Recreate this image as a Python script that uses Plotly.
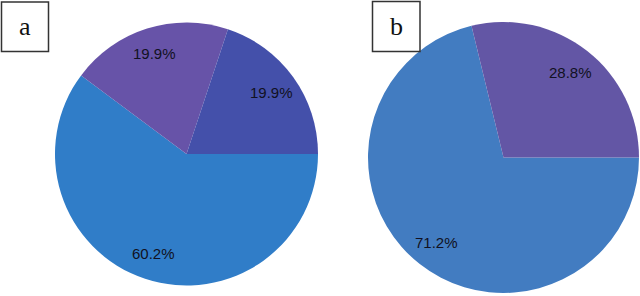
import math
import plotly.graph_objects as go

# Data
labels_a = ["A1", "A2", "A3"]
values_a = [60.2, 19.9, 19.9]
colors_a = ["#307DC8", "#6753A8", "#4450AA"]

labels_b = ["B1", "B2"]
values_b = [71.2, 28.8]
colors_b = ["#427CC1", "#6356A5"]

panel_labels = ["a", "b"]

W, H = 640, 296

fig = go.Figure()

def dom(cx, cy, r):
    return dict(x=[(cx - r) / W, (cx + r) / W],
                y=[(H - cy - r) / H, (H - cy + r) / H])

common = dict(sort=False, direction="clockwise", rotation=90,
              textinfo="none", textposition="none",
              marker=dict(line=dict(width=0)), showlegend=False, hoverinfo="label+value")

pies = [
    (labels_a, values_a, colors_a, 186.5, 154, 131.5),
    (labels_b, values_b, colors_b, 503.5, 157.5, 135.5),
]

for labels, values, colors, cx, cy, r in pies:
    fig.add_trace(go.Pie(labels=labels, values=values, marker_colors=colors,
                         domain=dom(cx, cy, r), **common))
    total = sum(values)
    cum = 0.0
    for v in values:
        theta = 2 * math.pi * (cum + v / 2) / total  # clockwise from 3 o'clock
        cum += v
        px = cx + 0.8 * r * math.cos(theta)
        py = cy + 0.8 * r * math.sin(theta)
        fig.add_annotation(x=px / W, y=1 - py / H, xref="paper", yref="paper",
                           text=f"{v:.1f}%", showarrow=False,
                           xanchor="center", yanchor="middle",
                           font=dict(family="Liberation Sans, Arial", size=15, color="#111122"))

boxes = [(1.5, 2, 48.5, 51.5), (372.5, 1.5, 420, 51.5)]
for (x0, y0, x1, y1), lab in zip(boxes, panel_labels):
    fig.add_shape(type="rect", xref="paper", yref="paper",
                  x0=x0 / W, x1=x1 / W, y0=1 - y0 / H, y1=1 - y1 / H,
                  line=dict(color="#333333", width=1.5), fillcolor="white", layer="above")
    fig.add_annotation(x=(x0 + x1) / 2 / W, y=1 - (y0 + y1) / 2 / H, xref="paper", yref="paper",
                       text=lab, showarrow=False, xanchor="center", yanchor="middle",
                       font=dict(family="Liberation Serif, Times New Roman", size=26, color="#111111"))

fig.update_layout(width=W, height=H, margin=dict(l=0, r=0, t=0, b=0),
                  paper_bgcolor="white", plot_bgcolor="white")

fig.write_html("out.html", config={"displayModeBar": False},
               post_script="document.body.style.margin='0';document.body.style.overflow='hidden';")
